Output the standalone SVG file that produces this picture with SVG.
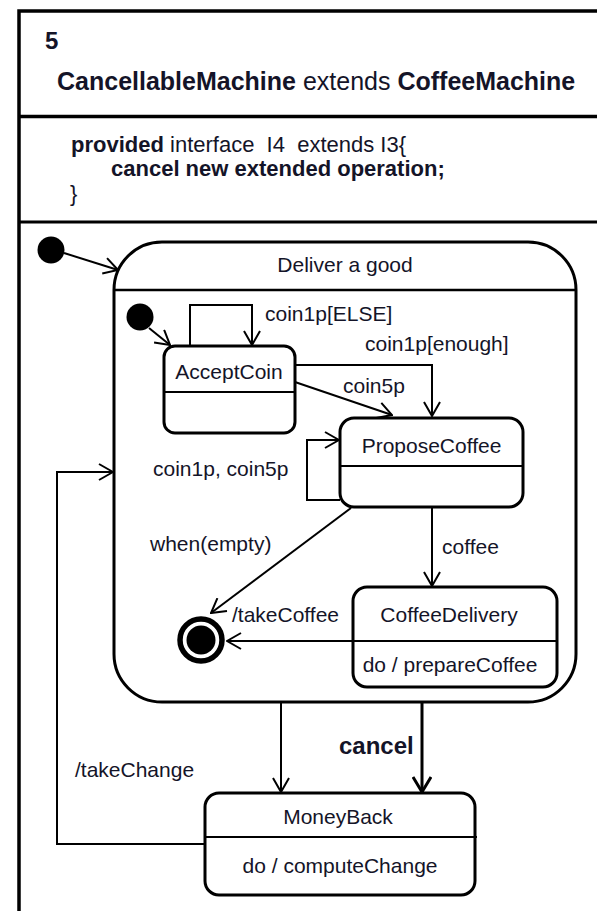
<svg xmlns="http://www.w3.org/2000/svg" width="597" height="911" viewBox="0 0 597 911">
<defs>
<style>
text{font-family:"Liberation Sans",Arial,sans-serif;fill:#141428;font-size:21px;white-space:pre}
.b{font-weight:bold}
.frame{fill:none;stroke:#000;stroke-width:3.5}
.state{fill:#fff;stroke:#000;stroke-width:3}
.sep{stroke:#000;stroke-width:2}
.tr{fill:none;stroke:#000;stroke-width:2}
.trb{fill:none;stroke:#000;stroke-width:3}
</style>
<marker id="arr" viewBox="0 0 16 18" refX="15" refY="9" markerWidth="16" markerHeight="18" markerUnits="userSpaceOnUse" orient="auto">
<path d="M1,1 L15,9 L1,17" fill="none" stroke="#000" stroke-width="2"/>
</marker>
<marker id="arrb" viewBox="0 0 18 20" refX="16" refY="10" markerWidth="18" markerHeight="20" markerUnits="userSpaceOnUse" orient="auto">
<path d="M1,1 L16,10 L1,19" fill="none" stroke="#000" stroke-width="3"/>
</marker>
</defs>
<rect width="597" height="911" fill="#fff"/>
<g id="frame">
<path class="frame" d="M19,913 V11 H600"/>
<line class="frame" x1="19" y1="116.5" x2="600" y2="116.5"/>
<line class="frame" x1="19" y1="222" x2="600" y2="222" style="stroke-width:3"/>
<text x="45" y="49" class="b" style="font-size:24px">5</text>
<text x="57" y="90" style="font-size:25px"><tspan class="b">CancellableMachine</tspan> extends <tspan class="b">CoffeeMachine</tspan></text>
<text x="71" y="152" style="font-size:22px" xml:space="preserve"><tspan class="b">provided</tspan> interface  I4  extends I3{</text>
<text x="111" y="176" class="b" style="font-size:22px">cancel new extended operation;</text>
<text x="70" y="201" style="font-size:22px">}</text>
</g>
<g id="connectors">
<path class="tr" d="M64,253 L118,270" marker-end="url(#arr)"/>
<path class="tr" d="M149,328 L170,345" marker-end="url(#arr)"/>
<path class="tr" d="M190,346 V305 H252 V345" marker-end="url(#arr)"/>
<path class="tr" d="M295,365 H432 V416" marker-end="url(#arr)"/>
<path class="tr" d="M292,381 L392,415" marker-end="url(#arr)"/>
<path class="tr" d="M340,500 H307 V440 H339" marker-end="url(#arr)"/>
<path class="tr" d="M432,507 V586" marker-end="url(#arr)"/>
<path class="tr" d="M351,508 L211,613" marker-end="url(#arr)"/>
<path class="tr" d="M353,641 H227" marker-end="url(#arr)"/>
<path class="tr" d="M281,702 V792" marker-end="url(#arr)"/>
<path class="trb" d="M422,702 V792" marker-end="url(#arrb)"/>
<path class="tr" d="M205,844 H57 V472 H113" marker-end="url(#arr)"/>
<text x="265" y="321">coin1p[ELSE]</text>
<text x="365" y="351">coin1p[enough]</text>
<text x="343" y="393">coin5p</text>
<text x="153" y="476">coin1p, coin5p</text>
<text x="150" y="551">when(empty)</text>
<text x="442" y="554">coffee</text>
<text x="232" y="622">/takeCoffee</text>
<text x="339" y="754" class="b" style="font-size:24px">cancel</text>
<text x="75" y="777">/takeChange</text>
</g>
<g id="init1"><circle cx="51" cy="250" r="13.5" fill="#000"/></g>
<g id="deliver">
<rect class="state" x="114" y="242" width="462" height="460" rx="48" style="fill:none"/>
<line class="sep" x1="114" y1="290" x2="576" y2="290" style="stroke-width:2.5"/>
<text x="345" y="272" text-anchor="middle">Deliver a good</text>
</g>
<g id="init2"><circle cx="140" cy="317" r="13.5" fill="#000"/></g>
<g id="acceptcoin">
<rect class="state" x="164" y="346" width="131" height="87" rx="11"/>
<line class="sep" x1="164" y1="392" x2="295" y2="392"/>
<text x="229" y="379" text-anchor="middle">AcceptCoin</text>
</g>
<g id="proposecoffee">
<rect class="state" x="340" y="418" width="183" height="89" rx="14"/>
<line class="sep" x1="340" y1="466" x2="523" y2="466"/>
<text x="431.5" y="453" text-anchor="middle">ProposeCoffee</text>
</g>
<g id="coffeedelivery">
<rect class="state" x="353" y="587" width="204" height="100" rx="14"/>
<line class="sep" x1="353" y1="641" x2="557" y2="641"/>
<text x="449" y="622" text-anchor="middle">CoffeeDelivery</text>
<text x="450" y="672" text-anchor="middle">do / prepareCoffee</text>
</g>
<g id="final">
<circle cx="201" cy="640" r="21" fill="#fff" stroke="#000" stroke-width="5.5"/>
<circle cx="201" cy="640" r="14.5" fill="#000"/>
</g>
<g id="moneyback">
<rect class="state" x="205" y="793" width="270" height="102" rx="14"/>
<line class="sep" x1="205" y1="837" x2="477" y2="837"/>
<text x="338" y="824" text-anchor="middle">MoneyBack</text>
<text x="340" y="873" text-anchor="middle">do / computeChange</text>
</g>
</svg>
